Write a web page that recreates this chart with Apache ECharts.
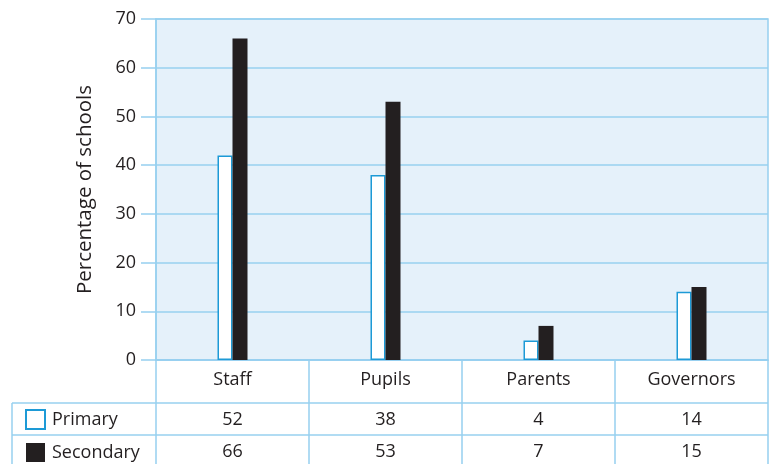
<!DOCTYPE html>
<html><head><meta charset="utf-8">
<script src="https://cdn.jsdelivr.net/npm/echarts@6/dist/echarts.min.js"></script>
<style>html,body{margin:0;padding:0;background:#fff}#c{width:771px;height:464px}</style>
</head><body><div id="c"></div>
<script>
const categories = ['Staff', 'Pupils', 'Parents', 'Governors'];
const primaryValues = [42, 38, 4, 14];
const secondaryValues = [66, 53, 7, 15];
const primaryTableLabels = ['52', '38', '4', '14'];
const secondaryTableLabels = ['66', '53', '7', '15'];
const yTicks = [0, 10, 20, 30, 40, 50, 60, 70];

const FONT = 'Open Sans';
const TXT = '#231f20';
const LINE = '#97d0ef';
const BLUE = '#1d9ad6';

const chart = echarts.init(document.getElementById('c'), null, {renderer: 'canvas'});
function tableAxis(labels, margin) {
  return {
    type: 'category', gridIndex: 0, position: 'bottom', data: categories,
    axisLine: {show: false}, axisTick: {show: false}, splitLine: {show: false},
    axisLabel: {margin: margin, fontFamily: FONT, fontSize: 18, color: TXT,
      formatter: (v, i) => labels[i]}
  };
}
chart.setOption({
  animation: false,
  grid: {left: 156, right: 3, top: 19, bottom: 104, show: true,
    backgroundColor: '#e5f1fa', borderColor: LINE, borderWidth: 1.5},
  legend: {
    orient: 'vertical', left: 25, top: 409, padding: 0, itemWidth: 19, itemHeight: 19, itemGap: 13,
    icon: 'rect',
    textStyle: {fontFamily: FONT, fontSize: 18, color: TXT, padding: [0, 0, 0, 2]},
    data: ['Primary', 'Secondary']
  },
  xAxis: [
    {
      type: 'category', data: categories, boundaryGap: true,
      axisLine: {show: true, lineStyle: {color: LINE, width: 1.5}},
      axisTick: {show: true, length: 104, lineStyle: {color: LINE, width: 1.5}},
      axisLabel: {margin: 11, fontFamily: FONT, fontSize: 18, color: TXT}
    },
    tableAxis(primaryTableLabels, 51),
    tableAxis(secondaryTableLabels, 83)
  ],
  yAxis: {
    type: 'value', min: 0, max: 70, interval: 10,
    name: 'Percentage of schools', nameLocation: 'middle', nameRotate: 90, nameGap: 60,
    nameTextStyle: {fontFamily: FONT, fontSize: 20.5, color: TXT},
    axisLine: {show: true, lineStyle: {color: LINE, width: 1.5}},
    axisTick: {show: true, length: 15, lineStyle: {color: LINE, width: 1.5}},
    splitLine: {show: true, lineStyle: {color: LINE, width: 1.5}},
    axisLabel: {margin: 20, fontFamily: FONT, fontSize: 18, color: TXT,
      formatter: v => yTicks.includes(v) ? String(v) : ''}
  },
  graphic: [
    {type: 'line', shape: {x1: 12, y1: 403, x2: 768, y2: 403}, style: {stroke: LINE, lineWidth: 1.5}},
    {type: 'line', shape: {x1: 12, y1: 435, x2: 768, y2: 435}, style: {stroke: LINE, lineWidth: 1.5}},
    {type: 'line', shape: {x1: 12, y1: 403, x2: 12, y2: 464}, style: {stroke: LINE, lineWidth: 1.5}}
  ],
  series: [
    {name: 'Primary', type: 'bar', data: primaryValues, barWidth: 15, barGap: '0%',
      itemStyle: {color: '#ffffff', borderColor: BLUE, borderWidth: 1.5}},
    {name: 'Secondary', type: 'bar', data: secondaryValues, barWidth: 15, barGap: '0%',
      itemStyle: {color: TXT}}
  ]
});
</script></body></html>
